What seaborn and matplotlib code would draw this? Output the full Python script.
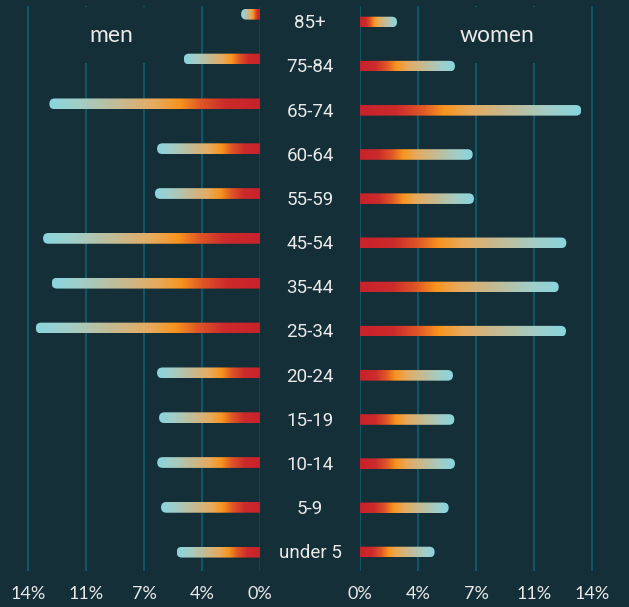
import numpy as np
import pandas as pd
import matplotlib
matplotlib.use("Agg")
import matplotlib.pyplot as plt
import seaborn as sns
from matplotlib.colors import LinearSegmentedColormap
from matplotlib.patches import FancyBboxPatch
from matplotlib.transforms import blended_transform_factory

# ---------------- data ----------------
ages = ["85+", "75-84", "65-74", "60-64", "55-59", "45-54", "35-44",
        "25-34", "20-24", "15-19", "10-14", "5-9", "under 5"]
men = [1.16, 4.62, 12.73, 6.23, 6.36, 13.11, 12.59, 13.55, 6.23, 6.11, 6.22, 5.99, 5.05]
women = [2.22, 5.72, 13.35, 6.79, 6.87, 12.45, 11.99, 12.43, 5.60, 5.68, 5.72, 5.34, 4.49]
tick_vals = [0, 3.5, 7, 10.5, 14]
tick_labels = ["0%", "4%", "7%", "11%", "14%"]
panel_titles = ["men", "women"]

# ---------------- style ----------------
BG = "#142f38"
GRID = "#0d6475"
ZERO = "#1d4750"
TXT = "#e9e9e9"
cmap = LinearSegmentedColormap.from_list("bar", [
    (0.00, "#c8222b"), (0.16, "#cc2a2b"), (0.28, "#df5626"),
    (0.38, "#f7941e"), (0.50, "#e6ab5f"), (0.65, "#c8b98d"),
    (0.85, "#a2cdc6"), (1.00, "#8ad5de")])

sns.set_theme(style="dark")
plt.rcParams["font.family"] = ["Lato", "DejaVu Sans"]

W, H = 629, 607
fig = plt.figure(figsize=(W / 100, H / 100), dpi=100, facecolor=BG)

top_px, bot_px = 6, 571
def fr_y(px):
    return 1 - px / H

# axes placements (pixels)
m_left, m_zero = 15, 260.3
w_zero, w_right = 360.3, 615
ax_m = fig.add_axes([m_left / W, fr_y(bot_px), (m_zero - m_left) / W, (bot_px - top_px) / H])
ax_w = fig.add_axes([w_zero / W, fr_y(bot_px), (w_right - w_zero) / W, (bot_px - top_px) / H])

px_per_unit_m = (m_zero - 28.3) / 14
px_per_unit_w = (592.0 - w_zero) / 14
xlim_m = ((m_zero - m_left) / px_per_unit_m, 0)
xlim_w = (0, (w_right - w_zero) / px_per_unit_w)
ylim_w = (12.43, -0.362)
ylim_m = (12.42, -0.183)

df_m = pd.DataFrame({"age": ages, "pct": men})
df_w = pd.DataFrame({"age": ages, "pct": women})

bar_h = 0.24
for ax, df, xl, yl in [(ax_m, df_m, xlim_m, ylim_m), (ax_w, df_w, xlim_w, ylim_w)]:
    ax.set_facecolor(BG)
    sns.barplot(data=df, x="pct", y="age", orient="h", ax=ax, color=BG,
                width=bar_h, order=ages)
    ax.set_xlim(*xl)
    ax.set_ylim(*yl)
    ax.set_autoscale_on(False)
    for s in ax.spines.values():
        s.set_visible(False)
    ax.set_xlabel("")
    ax.set_ylabel("")
    ax.set_yticks([])
    ax.set_xticks(tick_vals)
    ax.set_xticklabels(tick_labels)
    ax.tick_params(axis="x", length=0, pad=11, labelsize=13, labelcolor=TXT)
    ax.grid(axis="x", color=GRID, lw=1.1)
    ax.grid(axis="y", visible=False)
    ax.set_axisbelow(True)

# darker zero line on the men side
for gl, v in zip(ax_m.get_xgridlines(), tick_vals):
    if v == 0:
        gl.set_color(ZERO)

# gradient, rounded-end bars from seaborn patch geometry
for ax in (ax_m, ax_w):
    p0 = ax.transData.transform((0, 0))
    p1 = ax.transData.transform((1, 1))
    sx, sy = abs(p1[0] - p0[0]), abs(p1[1] - p0[1])
    grad = np.linspace(0, 1, 512).reshape(1, -1)
    for patch in list(ax.patches):
        bb = patch.get_bbox()
        x0, x1 = sorted([bb.x0, bb.x1])
        y0, y1 = sorted([bb.y0, bb.y1])
        val = x1
        h = y1 - y0
        rs = (h / 2) * sy / sx
        patch.set_visible(False)
        clip = FancyBboxPatch((x0 - rs, y0), val + rs - x0, h,
                              boxstyle=f"round,pad=0,rounding_size={rs}",
                              mutation_aspect=sx / sy, transform=ax.transData)
        im = ax.imshow(grad, extent=[0, val, y1, y0], aspect="auto", cmap=cmap,
                       interpolation="bilinear", zorder=3)
        im.set_clip_path(clip)

ax_m.set_xlim(*xlim_m); ax_m.set_ylim(*ylim_m)
ax_w.set_xlim(*xlim_w); ax_w.set_ylim(*ylim_w)

# panel titles (boxes mask the grid only, bars sit above them)
ax_m.text((m_zero - 111) / px_per_unit_m, (bot_px - 35) / (bot_px - top_px), panel_titles[0],
          transform=blended_transform_factory(ax_m.transData, ax_m.transAxes),
          ha="center", va="center", fontsize=16.5, color=TXT, zorder=2,
          bbox=dict(boxstyle="square,pad=0.75", fc=BG, ec="none"))
ax_w.text((496.7 - w_zero) / px_per_unit_w, (bot_px - 35) / (bot_px - top_px), panel_titles[1],
          transform=blended_transform_factory(ax_w.transData, ax_w.transAxes),
          ha="center", va="center", fontsize=16.5, color=TXT, zorder=2,
          bbox=dict(boxstyle="square,pad=0.75", fc=BG, ec="none"))

# category labels in the middle
tr = blended_transform_factory(fig.transFigure, ax_w.transData)
for i, a in enumerate(ages):
    fig.text(310 / W, i + 0.03, a, transform=tr, ha="center", va="center",
             fontsize=13.5, color=TXT, family=["Roboto", "DejaVu Sans"])

fig.savefig("out.png", dpi=100, facecolor=BG)
